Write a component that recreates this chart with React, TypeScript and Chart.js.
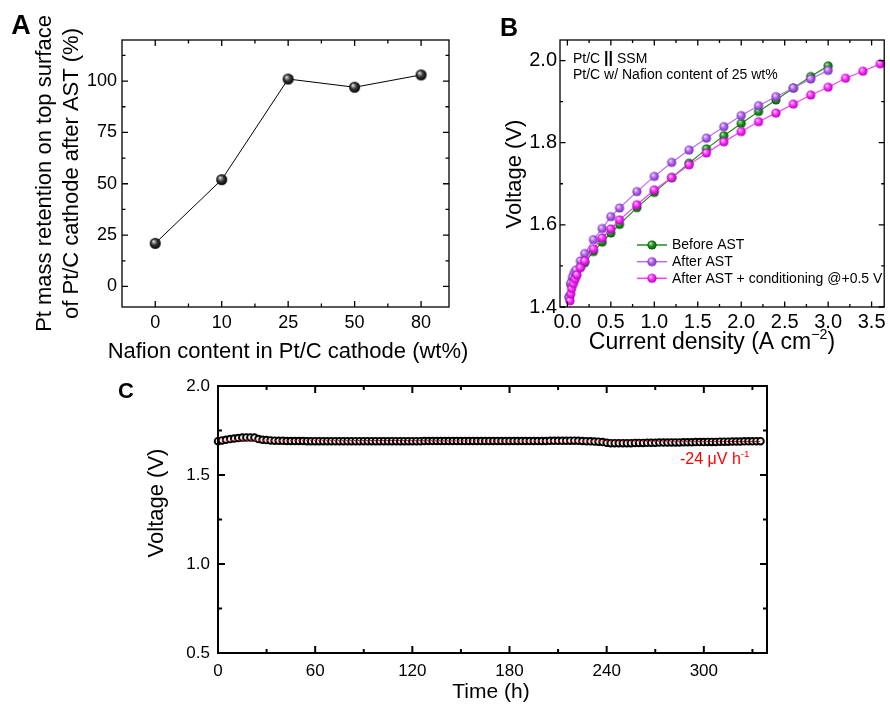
import React, { useEffect, useRef } from "react";
import { Chart, registerables } from "chart.js";
Chart.register(...registerables);

const FONT = "Arial, 'Liberation Sans', Helvetica, sans-serif";
Chart.defaults.font.family = FONT;

// ---------------- Panel A data ----------------
const nafionContent = ["0", "10", "25", "50", "80"];
const ptRetention = [21, 52, 101, 97, 103];
const aXTicks = [0, 1, 2, 3, 4];
const aXMinor = [0.5, 1.5, 2.5, 3.5];
const aYTicks = [0, 25, 50, 75, 100];
const aYMinor = [12.5, 37.5, 62.5, 87.5, 112.5];

// ---------------- Panel B data ----------------
const currentBefore = [0.02, 0.04, 0.06, 0.08, 0.1, 0.15, 0.2, 0.3, 0.4, 0.5, 0.6, 0.8, 1.0, 1.2, 1.4, 1.6, 1.8, 2.0, 2.2, 2.4, 2.6, 2.8, 3.0];
const voltBefore = [1.425, 1.455, 1.466, 1.476, 1.485, 1.497, 1.508, 1.535, 1.558, 1.58, 1.601, 1.642, 1.679, 1.715, 1.75, 1.785, 1.817, 1.847, 1.876, 1.904, 1.933, 1.961, 1.987];
const currentAfter = [0.02, 0.04, 0.06, 0.08, 0.1, 0.15, 0.2, 0.3, 0.4, 0.5, 0.6, 0.8, 1.0, 1.2, 1.4, 1.6, 1.8, 2.0, 2.2, 2.4, 2.6, 2.8, 3.0];
const voltAfter = [1.423, 1.458, 1.474, 1.484, 1.49, 1.512, 1.53, 1.564, 1.591, 1.62, 1.641, 1.681, 1.718, 1.752, 1.782, 1.811, 1.839, 1.866, 1.89, 1.912, 1.933, 1.955, 1.976];
const currentCond = [0.03, 0.04, 0.05, 0.07, 0.09, 0.11, 0.15, 0.2, 0.3, 0.4, 0.5, 0.6, 0.8, 1.0, 1.2, 1.4, 1.6, 1.8, 2.0, 2.2, 2.4, 2.6, 2.8, 3.0, 3.2, 3.4, 3.6];
const voltCond = [1.415, 1.432, 1.445, 1.457, 1.468, 1.478, 1.496, 1.512, 1.541, 1.568, 1.59, 1.612, 1.649, 1.685, 1.715, 1.746, 1.775, 1.802, 1.827, 1.851, 1.872, 1.894, 1.916, 1.935, 1.957, 1.974, 1.992];
const seriesBLabels = ["Before AST", "After AST", "After AST + conditioning @+0.5 V"];
const bXTicks = [0, 0.5, 1.0, 1.5, 2.0, 2.5, 3.0, 3.5];
const bXMinor = [0.25, 0.75, 1.25, 1.75, 2.25, 2.75, 3.25];
const bYTicks = [1.4, 1.6, 1.8, 2.0];
const bYMinor = [1.5, 1.7, 1.9];

// ---------------- Panel C data ----------------
const timeHours = [
  0, 2.5, 5, 7.5, 10, 12.5, 15, 17.5, 20, 22.5,
  25, 27.5, 30, 32.5, 35, 37.5, 40, 42.5, 45, 47.5,
  50, 52.5, 55, 57.5, 60, 62.5, 65, 67.5, 70, 72.5,
  75, 77.5, 80, 82.5, 85, 87.5, 90, 92.5, 95, 97.5,
  100, 102.5, 105, 107.5, 110, 112.5, 115, 117.5, 120, 122.5,
  125, 127.5, 130, 132.5, 135, 137.5, 140, 142.5, 145, 147.5,
  150, 152.5, 155, 157.5, 160, 162.5, 165, 167.5, 170, 172.5,
  175, 177.5, 180, 182.5, 185, 187.5, 190, 192.5, 195, 197.5,
  200, 202.5, 205, 207.5, 210, 212.5, 215, 217.5, 220, 222.5,
  225, 227.5, 230, 232.5, 235, 237.5, 240, 242.5, 245, 247.5,
  250, 252.5, 255, 257.5, 260, 262.5, 265, 267.5, 270, 272.5,
  275, 277.5, 280, 282.5, 285, 287.5, 290, 292.5, 295, 297.5,
  300, 302.5, 305, 307.5, 310, 312.5, 315, 317.5, 320, 322.5,
  325, 327.5, 330, 332.5, 335,
];
const cellVoltage = [
  1.690, 1.694, 1.698, 1.702, 1.705, 1.708, 1.710, 1.711, 1.711, 1.710,
  1.702, 1.698, 1.696, 1.694, 1.693, 1.692, 1.692, 1.691, 1.691, 1.691,
  1.691, 1.691, 1.690, 1.690, 1.690, 1.690, 1.690, 1.690, 1.690, 1.690,
  1.690, 1.690, 1.690, 1.690, 1.690, 1.690, 1.690, 1.690, 1.690, 1.690,
  1.690, 1.690, 1.690, 1.690, 1.690, 1.690, 1.690, 1.690, 1.690, 1.690,
  1.690, 1.691, 1.691, 1.691, 1.691, 1.691, 1.691, 1.691, 1.691, 1.691,
  1.691, 1.691, 1.691, 1.691, 1.691, 1.691, 1.691, 1.691, 1.691, 1.691,
  1.691, 1.691, 1.691, 1.691, 1.691, 1.691, 1.691, 1.691, 1.691, 1.691,
  1.691, 1.691, 1.692, 1.692, 1.692, 1.692, 1.692, 1.693, 1.693, 1.692,
  1.691, 1.690, 1.689, 1.688, 1.687, 1.685, 1.681, 1.679, 1.679, 1.679,
  1.679, 1.679, 1.679, 1.680, 1.680, 1.680, 1.681, 1.681, 1.681, 1.682,
  1.682, 1.682, 1.683, 1.683, 1.683, 1.684, 1.684, 1.684, 1.685, 1.685,
  1.685, 1.686, 1.686, 1.686, 1.687, 1.687, 1.687, 1.688, 1.688, 1.688,
  1.689, 1.689, 1.689, 1.690, 1.690,
];
const fitTime = [0, 335];
const fitVoltage = [1.696, 1.688];
const cXTicks = [0, 60, 120, 180, 240, 300];
const cXMinor = [30, 90, 150, 210, 270, 330];
const cYTicks = [0.5, 1.0, 1.5, 2.0];
const cYMinor = [0.75, 1.25, 1.75];

// ---------------- helpers ----------------
type Seg = { t: string; sup?: boolean; bold?: boolean; scale?: number };
type TextItem = { segs: Seg[]; x: number; y: number; size: number; rot?: number; color?: string; align?: "left" | "center" | "right"; bold?: boolean };

function drawRich(ctx: CanvasRenderingContext2D, it: TextItem) {
  ctx.save();
  ctx.translate(it.x, it.y);
  if (it.rot) ctx.rotate(it.rot);
  ctx.fillStyle = it.color || "#000";
  ctx.textBaseline = "middle";
  ctx.textAlign = "left";
  const fontOf = (s: Seg) =>
    `${s.bold || it.bold ? "bold " : ""}${s.sup ? it.size * 0.62 : it.size * (s.scale || 1)}px ${FONT}`;
  let total = 0;
  const widths = it.segs.map((s) => {
    ctx.font = fontOf(s);
    const w = ctx.measureText(s.t).width;
    total += w;
    return w;
  });
  let x = it.align === "left" ? 0 : it.align === "right" ? -total : -total / 2;
  it.segs.forEach((s, i) => {
    ctx.font = fontOf(s);
    ctx.fillText(s.t, x, s.sup ? -it.size * 0.36 : 0);
    x += widths[i];
  });
  ctx.restore();
}

function textPlugin(items: TextItem[]) {
  return {
    id: "richText",
    afterDraw(chart: any) {
      items.forEach((it) => drawRich(chart.ctx, it));
    },
  };
}

function framePlugin(cfg: { lw: number; major: number; minor: number; minorX: number[]; minorY: number[] }) {
  return {
    id: "frameTicks",
    afterDraw(chart: any) {
      const { ctx, chartArea: a, scales } = chart;
      const xs = scales.x;
      const ys = scales.y;
      ctx.save();
      ctx.strokeStyle = "#000";
      ctx.lineWidth = cfg.lw;
      ctx.beginPath();
      const tickX = (v: number, len: number) => {
        const p = xs.getPixelForValue(v);
        if (p < a.left - 0.5 || p > a.right + 0.5) return;
        ctx.moveTo(p, a.bottom);
        ctx.lineTo(p, a.bottom - len);
        ctx.moveTo(p, a.top);
        ctx.lineTo(p, a.top + len);
      };
      const tickY = (v: number, len: number) => {
        const p = ys.getPixelForValue(v);
        if (p < a.top - 0.5 || p > a.bottom + 0.5) return;
        ctx.moveTo(a.left, p);
        ctx.lineTo(a.left + len, p);
        ctx.moveTo(a.right, p);
        ctx.lineTo(a.right - len, p);
      };
      xs.ticks.forEach((t: any) => tickX(t.value, cfg.major));
      cfg.minorX.forEach((v) => tickX(v, cfg.minor));
      ys.ticks.forEach((t: any) => tickY(t.value, cfg.major));
      cfg.minorY.forEach((v) => tickY(v, cfg.minor));
      ctx.stroke();
      ctx.strokeRect(a.left, a.top, a.right - a.left, a.bottom - a.top);
      ctx.restore();
    },
  };
}

function legendPlugin(x0: number, rows: number[], size: number) {
  return {
    id: "inLegend",
    afterDraw(chart: any) {
      const ctx: CanvasRenderingContext2D = chart.ctx;
      chart.data.datasets.forEach((ds: any, i: number) => {
        const y = rows[i];
        ctx.save();
        ctx.strokeStyle = ds.borderColor;
        ctx.lineWidth = 1.5;
        ctx.beginPath();
        ctx.moveTo(x0, y);
        ctx.lineTo(x0 + 30, y);
        ctx.stroke();
        const img = ds.pointStyle as HTMLCanvasElement;
        ctx.drawImage(img, x0 + 15 - img.width / 2, y - img.height / 2);
        ctx.fillStyle = "#000";
        ctx.font = `${size}px ${FONT}`;
        ctx.textBaseline = "middle";
        ctx.textAlign = "left";
        ctx.fillText(ds.label, x0 + 35, y + 0.5);
        ctx.restore();
      });
    },
  };
}

function sphere(r: number, c0: string, c1: string, c2: string) {
  const s = Math.ceil(r * 2 + 2);
  const cv = document.createElement("canvas");
  cv.width = s;
  cv.height = s;
  const g = cv.getContext("2d")!;
  const cx = s / 2;
  const cy = s / 2;
  const grad = g.createRadialGradient(cx - r * 0.35, cy - r * 0.4, r * 0.05, cx, cy, r);
  grad.addColorStop(0, c0);
  grad.addColorStop(0.5, c1);
  grad.addColorStop(1, c2);
  g.fillStyle = grad;
  g.beginPath();
  g.arc(cx, cy, r, 0, Math.PI * 2);
  g.fill();
  return cv;
}

function axis(o: {
  min: number; max: number; major: number[]; fixed: number; horizontal: boolean; size: number; pad: number;
  cb: (v: number) => string;
}) {
  return {
    type: "linear",
    min: o.min,
    max: o.max,
    grid: { display: false, drawTicks: false },
    border: { display: false },
    ticks: {
      font: { family: FONT, size: o.size },
      color: "#000",
      padding: o.pad,
      autoSkip: false,
      maxRotation: 0,
      minRotation: 0,
      callback: (v: any) => o.cb(Number(v)),
    },
    afterBuildTicks: (s: any) => {
      s.ticks = o.major.map((v) => ({ value: v }));
    },
    afterFit: (s: any) => {
      if (o.horizontal) s.height = o.fixed;
      else s.width = o.fixed;
      s.paddingLeft = 0;
      s.paddingRight = 0;
      s.paddingTop = 0;
      s.paddingBottom = 0;
    },
  };
}

const base = {
  responsive: false,
  maintainAspectRatio: false,
  animation: false,
  devicePixelRatio: 1,
  events: [] as any[],
};

const noPlugins = { legend: { display: false }, tooltip: { enabled: false } };

export default function App() {
  const refA = useRef<HTMLCanvasElement>(null);
  const refB = useRef<HTMLCanvasElement>(null);
  const refC = useRef<HTMLCanvasElement>(null);

  useEffect(() => {
    const blackBall = sphere(5.5, "#e8e8e8", "#3a3a3a", "#000000");
    const greenBall = sphere(4.6, "#b8f0b8", "#1d931d", "#0a520a");
    const purpleBall = sphere(4.6, "#f4e2ff", "#b462f2", "#7430b0");
    const magentaBall = sphere(4.6, "#ffd6ff", "#ff2cff", "#b000b8");

    const chartA = new Chart(refA.current!, {
      type: "line",
      data: {
        datasets: [
          {
            data: ptRetention.map((y, i) => ({ x: aXTicks[i], y })),
            borderColor: "#000",
            borderWidth: 1,
            pointStyle: blackBall as any,
            pointRadius: 5.5,
            clip: 10,
          } as any,
        ],
      },
      options: {
        ...base,
        layout: { padding: { left: 0, top: 40, right: 441, bottom: 359 } },
        scales: {
          x: axis({ min: -0.5, max: 4.42, major: aXTicks, fixed: 40, horizontal: true, size: 18, pad: 5, cb: (v) => nafionContent[v] ?? "" }) as any,
          y: axis({ min: -10, max: 120, major: aYTicks, fixed: 122, horizontal: false, size: 18, pad: 5, cb: (v) => String(v) }) as any,
        },
        plugins: noPlugins as any,
      },
      plugins: [
        framePlugin({ lw: 1.3, major: 6, minor: 3.5, minorX: aXMinor, minorY: aYMinor }),
        textPlugin([
          { segs: [{ t: "A" }], x: 21, y: 27, size: 27, bold: true },
          { segs: [{ t: "Pt mass retention on top surface" }], x: 45, y: 173.5, size: 22, rot: -Math.PI / 2 },
          { segs: [{ t: "of Pt/C cathode after AST (%)" }], x: 72, y: 173.5, size: 22, rot: -Math.PI / 2 },
          { segs: [{ t: "Nafion content in Pt/C cathode (wt%)" }], x: 288, y: 352, size: 22 },
        ]),
      ],
    } as any);

    const chartB = new Chart(refB.current!, {
      type: "line",
      data: {
        datasets: [
          {
            label: seriesBLabels[0],
            data: currentBefore.map((x, i) => ({ x, y: voltBefore[i] })),
            borderColor: "#1f8f1f",
            borderWidth: 1.2,
            pointStyle: greenBall as any,
            pointRadius: 4.6,
            order: 2,
            clip: 10,
          },
          {
            label: seriesBLabels[1],
            data: currentAfter.map((x, i) => ({ x, y: voltAfter[i] })),
            borderColor: "#bb6cf7",
            borderWidth: 1.2,
            pointStyle: purpleBall as any,
            pointRadius: 4.6,
            order: 1,
            clip: 10,
          },
          {
            label: seriesBLabels[2],
            data: currentCond.map((x, i) => ({ x, y: voltCond[i] })),
            borderColor: "#ff3cff",
            borderWidth: 1.2,
            pointStyle: magentaBall as any,
            pointRadius: 4.6,
            order: 0,
            clip: 10,
          },
        ] as any,
      },
      options: {
        ...base,
        layout: { padding: { left: 460, top: 40, right: 1, bottom: 359 } },
        scales: {
          x: axis({ min: -0.085, max: 3.645, major: bXTicks, fixed: 40, horizontal: true, size: 20, pad: 3, cb: (v) => v.toFixed(1) }) as any,
          y: axis({ min: 1.4, max: 2.05, major: bYTicks, fixed: 100, horizontal: false, size: 20, pad: 3, cb: (v) => v.toFixed(1) }) as any,
        },
        plugins: noPlugins as any,
      },
      plugins: [
        framePlugin({ lw: 1.3, major: 5.5, minor: 3, minorX: bXMinor, minorY: bYMinor }),
        legendPlugin(637, [245, 261.7, 278.3], 14),
        textPlugin([
          { segs: [{ t: "B" }], x: 509, y: 29, size: 25, bold: true },
          { segs: [{ t: "Voltage (V)" }], x: 515, y: 174, size: 22, rot: -Math.PI / 2 },
          { segs: [{ t: "Current density (A cm" }, { t: "\u22122", sup: true }, { t: ")" }], x: 712, y: 343, size: 23 },
          { segs: [{ t: "Pt/C " }, { t: "||", bold: true, scale: 1.15 }, { t: " SSM" }], x: 573, y: 59, size: 14, align: "left" },
          { segs: [{ t: "Pt/C w/ Nafion content of 25 wt%" }], x: 573, y: 75, size: 14, align: "left" },
        ]),
      ],
    } as any);

    const chartC = new Chart(refC.current!, {
      type: "line",
      data: {
        datasets: [
          {
            data: fitTime.map((x, i) => ({ x, y: fitVoltage[i] })),
            borderColor: "#ff1010",
            borderWidth: 1,
            borderDash: [2, 2],
            pointRadius: 0,
            clip: 10,
          },
          {
            data: timeHours.map((x, i) => ({ x, y: cellVoltage[i] })),
            showLine: false,
            pointStyle: "circle",
            pointRadius: 3.3,
            pointBorderWidth: 1.9,
            pointBorderColor: "#000",
            pointBackgroundColor: "#e6e6e6",
            clip: 10,
          },
        ] as any,
      },
      options: {
        ...base,
        layout: { padding: { left: 100, top: 386, right: 123, bottom: 13 } },
        scales: {
          x: axis({ min: 0, max: 339, major: cXTicks, fixed: 40, horizontal: true, size: 17, pad: 8, cb: (v) => String(v) }) as any,
          y: axis({ min: 0.5, max: 2.0, major: cYTicks, fixed: 118, horizontal: false, size: 17, pad: 8, cb: (v) => v.toFixed(1) }) as any,
        },
        plugins: noPlugins as any,
      },
      plugins: [
        framePlugin({ lw: 2, major: 7, minor: 4, minorX: cXMinor, minorY: cYMinor }),
        textPlugin([
          { segs: [{ t: "C" }], x: 126, y: 392, size: 22, bold: true },
          { segs: [{ t: "Voltage (V)" }], x: 157, y: 503, size: 22, rot: -Math.PI / 2 },
          { segs: [{ t: "Time (h)" }], x: 491, y: 692, size: 21 },
          { segs: [{ t: "-24 \u03bcV h" }, { t: "-1", sup: true }], x: 680, y: 460, size: 16, color: "#ff0000", align: "left" },
        ]),
      ],
    } as any);

    return () => {
      chartA.destroy();
      chartB.destroy();
      chartC.destroy();
    };
  }, []);

  const cs: React.CSSProperties = { position: "absolute", left: 0, top: 0, width: 890, height: 706 };
  return (
    <div style={{ position: "absolute", left: 0, top: 0, width: 890, height: 706, background: "#fff" }}>
      <canvas ref={refA} width={890} height={706} style={cs} />
      <canvas ref={refB} width={890} height={706} style={cs} />
      <canvas ref={refC} width={890} height={706} style={cs} />
    </div>
  );
}
